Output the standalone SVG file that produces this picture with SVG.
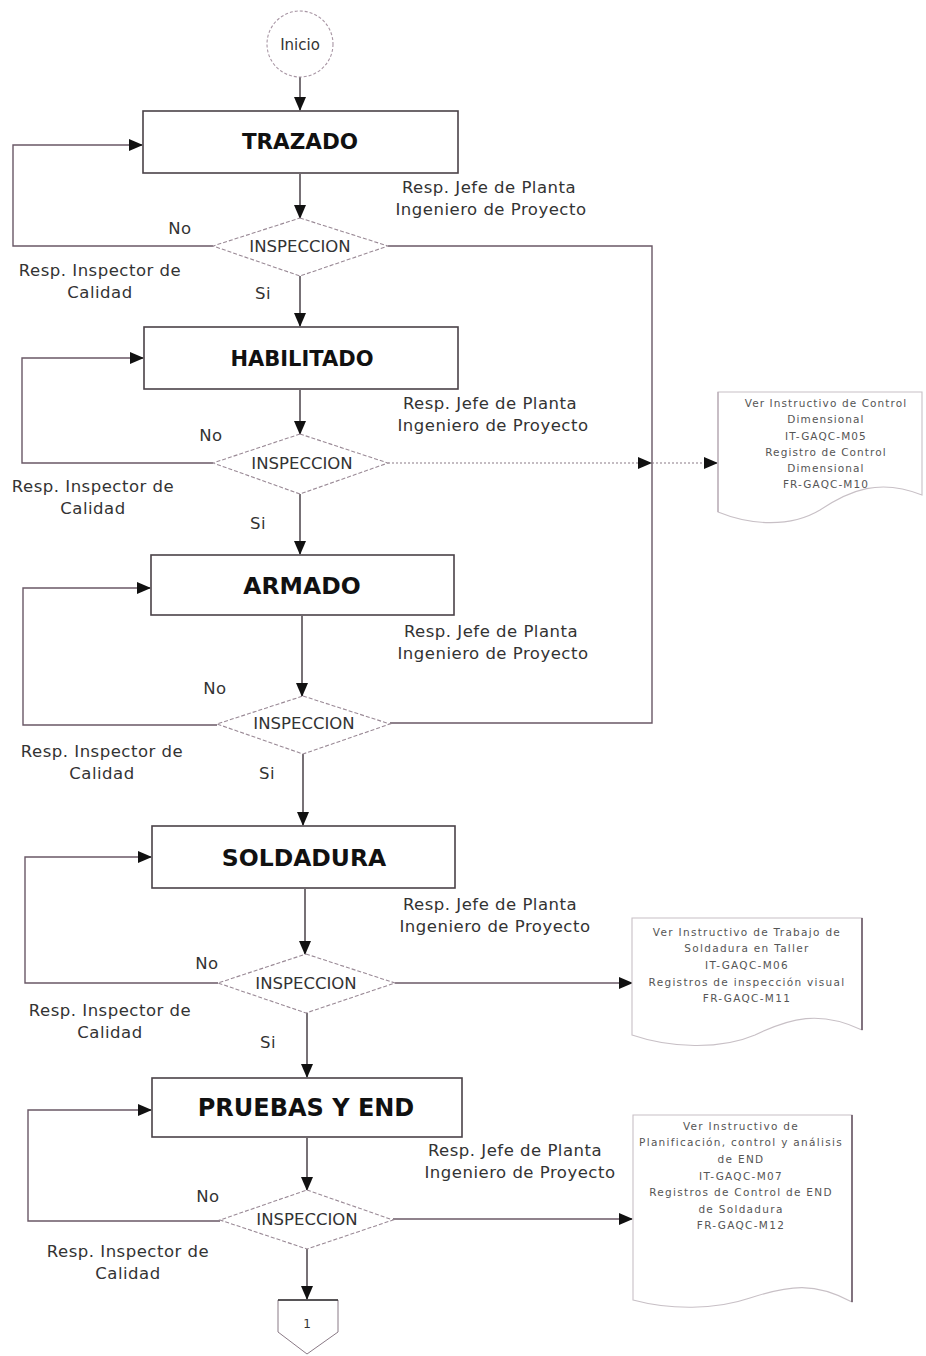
<svg xmlns="http://www.w3.org/2000/svg" width="926" height="1356" viewBox="0 0 926 1356">
  <defs>
    <marker id="arrowLg" markerWidth="14" markerHeight="12" refX="13" refY="6" orient="auto" markerUnits="userSpaceOnUse" viewBox="0 0 14 12">
      <path d="M0,0 L14,6 L0,12 z" fill="#111"/>
    </marker>
    <style>
      .box { fill: #fff; stroke: #4a4248; stroke-width: 1.6; }
      .title { font-family: "DejaVu Sans", Verdana, sans-serif; font-weight: bold; font-size: 21px; fill: #111; text-anchor: middle; }
      .dia { fill: #fff; stroke: #9a8a96; stroke-width: 1.1; stroke-dasharray: 4 2; }
      .diatxt { font-family: "DejaVu Sans", Verdana, sans-serif; font-size: 16.5px; fill: #333; text-anchor: middle; }
      .lbl { font-family: "DejaVu Sans", Verdana, sans-serif; font-size: 16.5px; letter-spacing: 0.5px; fill: #333; }
      .mid { text-anchor: middle; }
      .flow { fill: none; stroke: #4a4248; stroke-width: 1.5; }
      .loop { fill: none; stroke: #6a5866; stroke-width: 1.4; }
      .dash { fill: none; stroke: #8a7a86; stroke-width: 1.2; stroke-dasharray: 2 2; }
      .doc { fill: #fff; stroke: #c8c0c6; stroke-width: 1.1; }
      .docedge { fill: none; stroke: #6a5866; stroke-width: 1.6; }
      .doctxt { font-family: "DejaVu Sans", Verdana, sans-serif; font-size: 10.5px; letter-spacing: 1.3px; fill: #555; text-anchor: middle; }
    </style>
  </defs>

  <!-- connectors -->
  <g id="connectors">
    <!-- main vertical flow -->
    <line class="flow" x1="300" y1="77" x2="300" y2="110" marker-end="url(#arrowLg)"/>
    <line class="flow" x1="300" y1="174" x2="300" y2="218" marker-end="url(#arrowLg)"/>
    <line class="flow" x1="300" y1="276" x2="300" y2="326" marker-end="url(#arrowLg)"/>
    <line class="flow" x1="300" y1="390" x2="300" y2="434" marker-end="url(#arrowLg)"/>
    <line class="flow" x1="300" y1="494" x2="300" y2="554" marker-end="url(#arrowLg)"/>
    <line class="flow" x1="302" y1="616" x2="302" y2="696" marker-end="url(#arrowLg)"/>
    <line class="flow" x1="303" y1="754" x2="303" y2="825" marker-end="url(#arrowLg)"/>
    <line class="flow" x1="305" y1="889" x2="305" y2="954" marker-end="url(#arrowLg)"/>
    <line class="flow" x1="307" y1="1013" x2="307" y2="1077" marker-end="url(#arrowLg)"/>
    <line class="flow" x1="307" y1="1138" x2="307" y2="1190" marker-end="url(#arrowLg)"/>
    <line class="flow" x1="307" y1="1249" x2="307" y2="1299" marker-end="url(#arrowLg)"/>

    <!-- "No" loops back to each step -->
    <polyline class="loop" points="213,246 13,246 13,145 142,145" marker-end="url(#arrowLg)"/>
    <polyline class="loop" points="213,463 22,463 22,358 143,358" marker-end="url(#arrowLg)"/>
    <polyline class="loop" points="217,725 23,725 23,588 150,588" marker-end="url(#arrowLg)"/>
    <polyline class="loop" points="218,983 25,983 25,857 151,857" marker-end="url(#arrowLg)"/>
    <polyline class="loop" points="220,1221 28,1221 28,1110 151,1110" marker-end="url(#arrowLg)"/>

    <!-- shared line to the dimensional control record -->
    <polyline class="loop" points="388,246 652,246 652,723 390,723"/>
    <line class="dash" x1="388" y1="463" x2="651" y2="463" marker-end="url(#arrowLg)"/>
    <line class="dash" x1="652" y1="463" x2="717" y2="463" marker-end="url(#arrowLg)"/>

    <!-- links to the welding and NDT records -->
    <line class="loop" x1="395" y1="983" x2="632" y2="983" marker-end="url(#arrowLg)"/>
    <line class="loop" x1="393" y1="1219" x2="632" y2="1219" marker-end="url(#arrowLg)"/>
  </g>

  <!-- start -->
  <g id="inicio">
    <circle cx="300" cy="44" r="33" fill="#fff" stroke="#a896a4" stroke-width="1.1" stroke-dasharray="3 2"/>
    <text class="diatxt" x="300" y="50" style="font-size:15px">Inicio</text>
  </g>

  <!-- process steps -->
  <g id="trazado">
    <rect class="box" x="143" y="111" width="315" height="62"/>
    <text class="title" x="300" y="149" style="font-size:21.5px">TRAZADO</text>
  </g>
  <g id="habilitado">
    <rect class="box" x="144" y="327" width="314" height="62"/>
    <text class="title" x="302" y="366">HABILITADO</text>
  </g>
  <g id="armado">
    <rect class="box" x="151" y="555" width="303" height="60"/>
    <text class="title" x="302" y="594" style="font-size:23.5px">ARMADO</text>
  </g>
  <g id="soldadura">
    <rect class="box" x="152" y="826" width="303" height="62"/>
    <text class="title" x="304" y="866" style="font-size:23.5px">SOLDADURA</text>
  </g>
  <g id="pruebas">
    <rect class="box" x="152" y="1078" width="310" height="59"/>
    <text class="title" x="306" y="1116" style="font-size:24px">PRUEBAS Y END</text>
  </g>

  <!-- inspections -->
  <g id="inspeccion1">
    <polygon class="dia" points="300,218 388,246 300,276 213,246"/>
    <text class="diatxt" x="300" y="252">INSPECCION</text>
  </g>
  <g id="inspeccion2">
    <polygon class="dia" points="300,434 388,463 300,494 213,463"/>
    <text class="diatxt" x="302" y="469">INSPECCION</text>
  </g>
  <g id="inspeccion3">
    <polygon class="dia" points="303,696 390,724 303,754 217,724"/>
    <text class="diatxt" x="304" y="729">INSPECCION</text>
  </g>
  <g id="inspeccion4">
    <polygon class="dia" points="306,954 395,983 306,1013 218,983"/>
    <text class="diatxt" x="306" y="989">INSPECCION</text>
  </g>
  <g id="inspeccion5">
    <polygon class="dia" points="307,1190 393,1220 307,1249 220,1220"/>
    <text class="diatxt" x="307" y="1225">INSPECCION</text>
  </g>

  <!-- responsibility and branch labels -->
  <g id="labels">
    <text class="lbl mid" x="489" y="193">Resp. Jefe de Planta</text>
    <text class="lbl mid" x="491" y="215">Ingeniero de Proyecto</text>
    <text class="lbl mid" x="180" y="234">No</text>
    <text class="lbl mid" x="100" y="276">Resp. Inspector de</text>
    <text class="lbl mid" x="100" y="298">Calidad</text>
    <text class="lbl mid" x="263" y="299">Si</text>

    <text class="lbl mid" x="490" y="409">Resp. Jefe de Planta</text>
    <text class="lbl mid" x="493" y="431">Ingeniero de Proyecto</text>
    <text class="lbl mid" x="211" y="441">No</text>
    <text class="lbl mid" x="93" y="492">Resp. Inspector de</text>
    <text class="lbl mid" x="93" y="514">Calidad</text>
    <text class="lbl mid" x="258" y="529">Si</text>

    <text class="lbl mid" x="491" y="637">Resp. Jefe de Planta</text>
    <text class="lbl mid" x="493" y="659">Ingeniero de Proyecto</text>
    <text class="lbl mid" x="215" y="694">No</text>
    <text class="lbl mid" x="102" y="757">Resp. Inspector de</text>
    <text class="lbl mid" x="102" y="779">Calidad</text>
    <text class="lbl mid" x="267" y="779">Si</text>

    <text class="lbl mid" x="490" y="910">Resp. Jefe de Planta</text>
    <text class="lbl mid" x="495" y="932">Ingeniero de Proyecto</text>
    <text class="lbl mid" x="207" y="969">No</text>
    <text class="lbl mid" x="110" y="1016">Resp. Inspector de</text>
    <text class="lbl mid" x="110" y="1038">Calidad</text>
    <text class="lbl mid" x="268" y="1048">Si</text>

    <text class="lbl mid" x="515" y="1156">Resp. Jefe de Planta</text>
    <text class="lbl mid" x="520" y="1178">Ingeniero de Proyecto</text>
    <text class="lbl mid" x="208" y="1202">No</text>
    <text class="lbl mid" x="128" y="1257">Resp. Inspector de</text>
    <text class="lbl mid" x="128" y="1279">Calidad</text>
  </g>

  <!-- quality records -->
  <g id="doc-dimensional">
    <path class="doc" d="M718,392 L922,392 L922,495 C880,478 850,490 820,510 C790,528 750,525 718,512 Z"/>
    <line class="docedge" x1="718" y1="392" x2="718" y2="512" style="stroke:#b8aab4;stroke-width:1.2"/>
    <text class="doctxt" x="826" y="407" style="letter-spacing:1.1px">Ver Instructivo de Control</text>
    <text class="doctxt" x="826" y="423" style="letter-spacing:1.1px">Dimensional</text>
    <text class="doctxt" x="826" y="440" style="letter-spacing:1.1px">IT-GAQC-M05</text>
    <text class="doctxt" x="826" y="456" style="letter-spacing:1.1px">Registro de Control</text>
    <text class="doctxt" x="826" y="472" style="letter-spacing:1.1px">Dimensional</text>
    <text class="doctxt" x="826" y="488" style="letter-spacing:1.1px">FR-GAQC-M10</text>
  </g>

  <g id="doc-soldadura">
    <path class="doc" d="M632,918 L862,918 L862,1030 C820,1010 790,1018 755,1035 C720,1050 670,1048 632,1035 Z"/>
    <line class="docedge" x1="862" y1="918" x2="862" y2="1030"/>
    <text class="doctxt" x="747" y="936">Ver Instructivo de Trabajo de</text>
    <text class="doctxt" x="747" y="952">Soldadura en Taller</text>
    <text class="doctxt" x="747" y="969">IT-GAQC-M06</text>
    <text class="doctxt" x="747" y="986">Registros de inspección visual</text>
    <text class="doctxt" x="747" y="1002">FR-GAQC-M11</text>
  </g>

  <g id="doc-end">
    <path class="doc" d="M633,1115 L852,1115 L852,1302 C815,1282 790,1285 750,1298 C715,1310 670,1310 633,1300 Z"/>
    <line class="docedge" x1="852" y1="1115" x2="852" y2="1302"/>
    <text class="doctxt" x="741" y="1130">Ver Instructivo de</text>
    <text class="doctxt" x="741" y="1146">Planificación, control y análisis</text>
    <text class="doctxt" x="741" y="1163">de END</text>
    <text class="doctxt" x="741" y="1180">IT-GAQC-M07</text>
    <text class="doctxt" x="741" y="1196">Registros de Control de END</text>
    <text class="doctxt" x="741" y="1213">de Soldadura</text>
    <text class="doctxt" x="741" y="1229">FR-GAQC-M12</text>
  </g>

  <!-- off-page connector -->
  <g id="conector-1">
    <polygon points="278,1300 338,1300 338,1332 307,1354 278,1332" fill="#fff" stroke="#8a7a86" stroke-width="1"/>
    <line x1="278" y1="1300" x2="338" y2="1300" stroke="#333" stroke-width="1.5"/>
    <text class="diatxt" x="307" y="1328" style="font-size:12px">1</text>
  </g>
</svg>
